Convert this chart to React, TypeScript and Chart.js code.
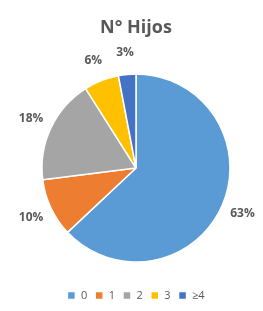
import React, { useEffect, useRef } from "react";
import { Chart, registerables } from "chart.js";

Chart.register(...registerables);

const categories = ["0", "1", "2", "3", "≥4"];
const values = [63, 10, 18, 6, 3];
const colors = ["#5B9BD5", "#ED7D31", "#A5A5A5", "#FFC000", "#4472C4"];
const title = "N° Hijos";

const outsideLabels = {
  id: "outsideLabels",
  afterDatasetsDraw(chart: any) {
    const ctx = chart.ctx;
    const meta = chart.getDatasetMeta(0);
    const data = chart.data.datasets[0].data as number[];
    const total = data.reduce((a, b) => a + b, 0);
    ctx.save();
    ctx.font = "bold 12px 'Open Sans', 'Liberation Sans', sans-serif";
    ctx.fillStyle = "#595959";
    ctx.textAlign = "center";
    ctx.textBaseline = "middle";
    meta.data.forEach((arc: any, i: number) => {
      const p = arc.getProps(["x", "y", "startAngle", "endAngle", "outerRadius"], true);
      const mid = (p.startAngle + p.endAngle) / 2;
      const d = p.outerRadius + 22;
      const x = p.x + Math.cos(mid) * d;
      const y = p.y + Math.sin(mid) * d;
      ctx.fillText(Math.round((data[i] / total) * 100) + "%", x, y);
    });
    ctx.restore();
  },
};

export default function App() {
  const ref = useRef<HTMLCanvasElement>(null);
  useEffect(() => {
    document.body.style.margin = "0";
    const chart = new Chart(ref.current!, {
      type: "pie",
      data: {
        labels: categories,
        datasets: [
          {
            data: values,
            backgroundColor: colors,
            borderColor: "#ffffff",
            borderWidth: 1.5,
            radius: 94,
          } as any,
        ],
      },
      options: {
        responsive: false,
        animation: false,
        layout: { padding: { left: 10, right: 1, top: 0, bottom: 0 } },
        plugins: {
          title: {
            display: true,
            text: title,
            color: "#595959",
            font: { size: 18, weight: "bold", family: "'Open Sans', 'Liberation Sans', sans-serif" },
            padding: { top: 17, bottom: 15.4 },
          },
          legend: {
            position: "bottom",
            labels: {
              boxWidth: 8,
              boxHeight: 8,
              padding: 8,
              color: "#595959",
              font: { size: 11, lineHeight: 1, family: "'Open Sans', 'Liberation Sans', sans-serif" },
            },
          },
          tooltip: { enabled: false },
        },
      },
      plugins: [outsideLabels],
    });
    return () => chart.destroy();
  }, []);
  return (
    <div style={{ width: 263, height: 311 }}>
      <canvas ref={ref} width={263} height={311} />
    </div>
  );
}
